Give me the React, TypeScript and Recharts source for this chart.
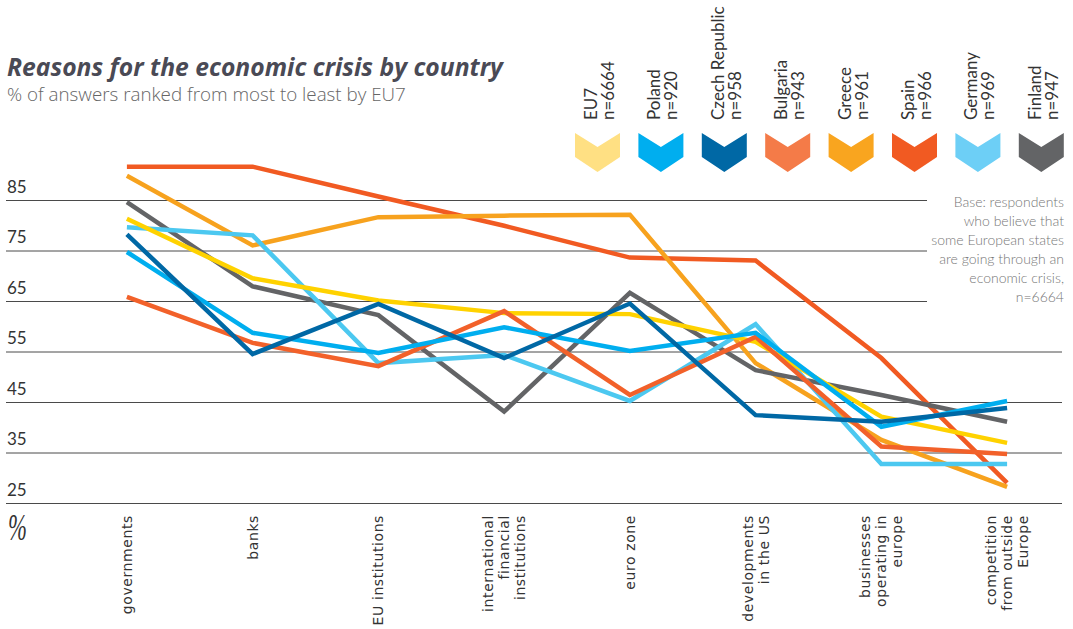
import React from 'react';
import { LineChart, Line, XAxis, YAxis, CartesianGrid } from 'recharts';

const categories = [
  'governments',
  'banks',
  'EU institutions',
  'international\nfinancial\ninstitutions',
  'euro zone',
  'developments\nin the US',
  'businesses\noperating in\neurope',
  'competition\nfrom outside\nEurope',
];

const eu7 = [81.4, 69.6, 65.2, 62.7, 62.5, 57, 42.2, 37];
const poland = [74.8, 58.8, 54.8, 59.9, 55.2, 58.8, 40.2, 45.3];
const czech = [78.3, 54.6, 64.5, 53.8, 64.6, 42.5, 41.2, 43.9];
const bulgaria = [65.9, 56.8, 52.2, 63.1, 46.5, 58, 36.3, 34.8];
const greece = [89.9, 76.1, 81.7, 82, 82.2, 52.8, 37.6, 28.3];
const spain = [91.7, 91.7, 85.8, 80, 73.7, 73.1, 53.8, 29.1];
const germany = [79.7, 78.1, 52.8, 54.4, 45.3, 60.5, 32.8, 32.8];
const finland = [84.7, 68, 62.3, 43.2, 66.7, 51.4, 46.5, 41.2];

const yTicks = [25, 35, 45, 55, 65, 75, 85];

const series = [
  { key: 'eu7', name: 'EU7', n: 'n=6664', values: eu7, color: '#FFD200', legend: '#FFE083' },
  { key: 'poland', name: 'Poland', n: 'n=920', values: poland, color: '#00AEEF', legend: '#00AEEF' },
  { key: 'czech', name: 'Czech Republic', n: 'n=958', values: czech, color: '#0068A5', legend: '#0068A5' },
  { key: 'bulgaria', name: 'Bulgaria', n: 'n=943', values: bulgaria, color: '#F2612A', legend: '#F47B48' },
  { key: 'greece', name: 'Greece', n: 'n=961', values: greece, color: '#F7A21E', legend: '#F9A51F' },
  { key: 'spain', name: 'Spain', n: 'n=966', values: spain, color: '#F15A22', legend: '#F15A22' },
  { key: 'germany', name: 'Germany', n: 'n=969', values: germany, color: '#4CC8F0', legend: '#6DCFF6' },
  { key: 'finland', name: 'Finland', n: 'n=947', values: finland, color: '#636466', legend: '#636466' },
];

// draw order (last on top)
const drawOrder = ['spain', 'greece', 'finland', 'germany', 'eu7', 'bulgaria', 'poland', 'czech'];

const rows = categories.map((category, i) => {
  const row: Record<string, string | number> = { category };
  series.forEach((s) => {
    row[s.key] = s.values[i];
  });
  return row;
});

const FONT = 'Lato, "Open Sans", sans-serif';

const GridLine = (props: any) => {
  const { y1, y2 } = props;
  // skip the plot's top edge, only the tick lines are drawn
  if (y1 < 160) return <g key={`grid-${y1}`} />;
  // upper lines stop short of the "Base" note
  const right = y1 < 320 ? 927 : 1062;
  return <line key={`grid-${y1}`} x1={6} x2={right} y1={y1} y2={y2} stroke="#4a4a4a" strokeWidth={1} />;
};

const YTick = (props: any) => {
  const { y, payload } = props;
  return (
    <text x={7} y={y - 8} fill="#333" fontSize={17} fontFamily={FONT}>
      {payload.value}
    </text>
  );
};

const XTick = (props: any) => {
  const { x, payload } = props;
  const lines = String(payload.value).split('\n');
  const lh = 16;
  return (
    <g transform={`translate(${x},515) rotate(-90)`}>
      <text
        textAnchor="end"
        fill="#333"
        fontSize={14}
        fontFamily='"DejaVu Sans", sans-serif'
        letterSpacing={0.6}
      >
        {lines.map((l, i) => (
          <tspan key={i} x={0} y={(i - (lines.length - 1) / 2) * lh + 5}>
            {l}
          </tspan>
        ))}
      </text>
    </g>
  );
};

const LegendBlock = () => {
  const startX = 575;
  const step = 63.4;
  const w = 45;
  return (
    <svg width={1073} height={180} style={{ position: 'absolute', left: 0, top: 0 }}>
      {series.map((s, i) => {
        const lx = startX + i * step;
        const top = 133;
        const notch = 14;
        const side = 24;
        const bottom = 39;
        const pts = [
          [lx, top],
          [lx + w / 2, top + notch],
          [lx + w, top],
          [lx + w, top + side],
          [lx + w / 2, top + bottom],
          [lx, top + side],
        ]
          .map((p) => p.join(','))
          .join(' ');
        return (
          <g key={s.key}>
            <g transform={`translate(${lx + 22},120) rotate(-90)`}>
              <text fill="#333" fontSize={17} fontFamily={FONT}>
                <tspan x={0} y={0}>{s.name}</tspan>
                <tspan x={0} y={17}>{s.n}</tspan>
              </text>
            </g>
            <polygon points={pts} fill={s.legend} />
          </g>
        );
      })}
    </svg>
  );
};

export default function App() {
  const ordered = drawOrder.map((k) => series.find((s) => s.key === k)!);
  return (
    <div style={{ position: 'absolute', left: 0, top: 0, width: 1073, height: 629, background: '#fff', fontFamily: FONT }}>
      <div
        style={{
          position: 'absolute',
          left: 7,
          top: 50,
          fontSize: 24.7,
          fontWeight: 700,
          fontStyle: 'italic',
          fontFamily: '"Open Sans", sans-serif',
          color: '#4a4a55',
          whiteSpace: 'nowrap',
        }}
      >
        Reasons for the economic crisis by country
      </div>
      <div
        style={{
          position: 'absolute',
          left: 7,
          top: 81,
          fontSize: 18.8,
          fontWeight: 300,
          fontFamily: '"Open Sans", sans-serif',
          color: '#666',
          whiteSpace: 'nowrap',
        }}
      >
        % of answers ranked from most to least by EU7
      </div>
      <LegendBlock />
      <div
        style={{
          position: 'absolute',
          right: 9,
          top: 192,
          fontSize: 14,
          lineHeight: '19px',
          color: '#777',
          textAlign: 'right',
          fontWeight: 300,
        }}
      >
        Base: respondents
        <br />
        who believe that
        <br />
        some European states
        <br />
        are going through an
        <br />
        economic crisis,
        <br />
        n=6664
      </div>
      <div
        style={{
          position: 'absolute',
          left: 8,
          top: 505,
          fontSize: 38,
          fontStyle: 'italic',
          fontFamily: '"Liberation Serif", serif',
          color: '#333',
          transform: 'scaleX(0.6)',
          transformOrigin: 'left top',
        }}
      >
        %
      </div>
      <div style={{ position: 'absolute', left: 0, top: 0 }}>
        <LineChart width={1073} height={629} data={rows} margin={{ top: 150, right: 3, bottom: 0, left: 6 }}>
          <CartesianGrid vertical={false} horizontal={GridLine} />
          <XAxis
            dataKey="category"
            height={125.5}
            axisLine={false}
            tickLine={false}
            interval={0}
            padding={{ left: 62.9, right: 62.9 }}
            tick={XTick}
          />
          <YAxis domain={[25, 95]} ticks={yTicks} width={58} axisLine={false} tickLine={false} tick={YTick} />
          {ordered.map((s) => (
            <Line
              key={s.key}
              dataKey={s.key}
              name={s.name}
              type="linear"
              stroke={s.color}
              strokeWidth={4.5}
              dot={false}
              activeDot={false}
              strokeLinejoin="miter"
              isAnimationActive={false}
            />
          ))}
        </LineChart>
      </div>
    </div>
  );
}
